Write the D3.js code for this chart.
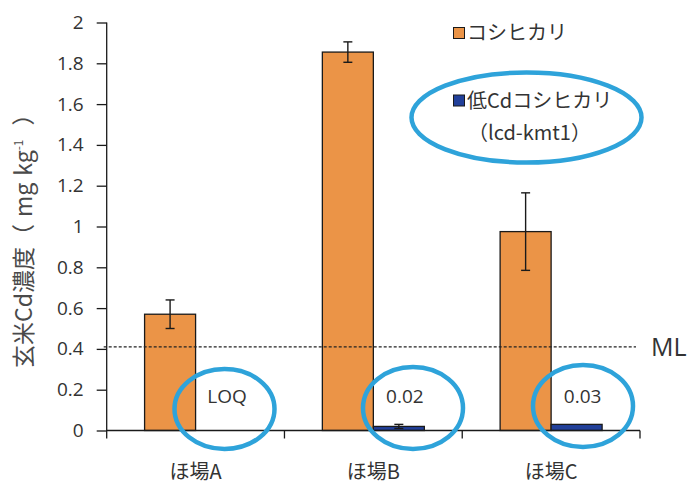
<!DOCTYPE html>
<html>
<head>
<meta charset="utf-8">
<script src="https://cdn.jsdelivr.net/npm/d3@7"></script>
<style>
  html, body { margin: 0; padding: 0; background: #fff; }
  svg { display: block; }
</style>
</head>
<body>
<svg id="chart" width="687" height="484"></svg>
<script>
// Brown rice Cd concentration by field, Koshihikari vs low-Cd Koshihikari
const categories = ["ほ場A", "ほ場B", "ほ場C"];
const seriesNames = ["コシヒカリ", "低Cdコシヒカリ"];
const koshihikari = [0.57, 1.855, 0.975];
const koshihikariErr = [0.07, 0.05, 0.19];
const lowCd = [0, 0.02, 0.03];
const lowCdErr = [0, 0.01, 0];
const lowCdLabels = ["LOQ", "0.02", "0.03"];
const yTicks = [0, 0.2, 0.4, 0.6, 0.8, 1, 1.2, 1.4, 1.6, 1.8, 2];
const mlValue = 0.41;

const colors = ["#EB9447", "#22409A"];
const textColor = "#333333";
const ringColor = "#2EA3DA";
const latin = "'Open Sans', Lato, sans-serif";
const cjk = "'Noto Sans CJK JP', sans-serif";

const svg = d3.select("#chart");
const plotLeft = 106.7, plotRight = 640, plotTop = 22.5, plotBottom = 430.5;

const y = d3.scaleLinear().domain([0, 2]).range([plotBottom, plotTop]);
const x0 = d3.scaleBand().domain(categories).range([plotLeft, plotRight]).paddingInner(0).paddingOuter(0);
// two bars per group, ~150% gap between groups
const x1 = d3.scaleBand().domain(seriesNames).range([0, x0.bandwidth()]).paddingOuter(0.743).paddingInner(0);

const g = svg.append("g");

const series = [
  { name: seriesNames[0], values: koshihikari, errs: koshihikariErr, color: colors[0] },
  { name: seriesNames[1], values: lowCd, errs: lowCdErr, color: colors[1] }
];

// bars
series.forEach(s => {
  categories.forEach((c, i) => {
    const bx = x0(c) + x1(s.name);
    const v = s.values[i];
    if (v > 0) {
      g.append("rect")
        .attr("x", bx)
        .attr("y", y(v))
        .attr("width", x1.bandwidth())
        .attr("height", y(0) - y(v))
        .attr("fill", s.color)
        .attr("stroke", "#1a1a1a")
        .attr("stroke-width", 1.3);
    }
  });
});

// error bars
series.forEach(s => {
  categories.forEach((c, i) => {
    const e = s.errs[i];
    if (!(e > 0)) return;
    const cx = x0(c) + x1(s.name) + x1.bandwidth() / 2;
    const v = s.values[i];
    const eg = g.append("g").attr("stroke", "#1a1a1a").attr("stroke-width", 1.4);
    eg.append("line").attr("x1", cx).attr("x2", cx).attr("y1", y(v + e)).attr("y2", y(v - e));
    eg.append("line").attr("x1", cx - 4.5).attr("x2", cx + 4.5).attr("y1", y(v + e)).attr("y2", y(v + e));
    eg.append("line").attr("x1", cx - 4.5).attr("x2", cx + 4.5).attr("y1", y(v - e)).attr("y2", y(v - e));
  });
});

// ML dashed line
g.append("line")
  .attr("x1", plotLeft - 3).attr("x2", 636)
  .attr("y1", y(mlValue)).attr("y2", y(mlValue))
  .attr("stroke", "#222").attr("stroke-width", 1.2)
  .attr("stroke-dasharray", "3,2");
g.append("text")
  .attr("x", 651).attr("y", y(mlValue))
  .attr("dy", "0.36em")
  .attr("font-family", latin)
  .attr("font-size", 25)
  .attr("fill", textColor)
  .text("ML");

// y axis
const yAxis = d3.axisLeft(y).tickValues(yTicks).tickSize(10).tickPadding(13)
  .tickFormat(d => d3.format("~g")(d));
const yg = svg.append("g").attr("transform", `translate(${plotLeft},0)`).call(yAxis);
yg.select(".domain").attr("d", `M0,${plotTop}V${plotBottom + 8}`).attr("stroke", "#1a1a1a").attr("stroke-width", 1.3);
yg.selectAll(".tick line").attr("stroke", "#1a1a1a").attr("stroke-width", 1.3);
yg.selectAll(".tick text")
  .attr("font-family", latin)
  .attr("font-size", 19)
  .attr("fill", textColor);

// x axis with category separators
const xg = svg.append("g").attr("transform", `translate(0,${plotBottom})`);
xg.append("line").attr("x1", plotLeft).attr("x2", plotRight).attr("y1", 0).attr("y2", 0)
  .attr("stroke", "#1a1a1a").attr("stroke-width", 1.3);
const bounds = categories.map(c => x0(c)).concat([plotRight]);
bounds.slice(1).forEach(bx => {
  xg.append("line").attr("x1", bx).attr("x2", bx).attr("y1", 0).attr("y2", 8)
    .attr("stroke", "#1a1a1a").attr("stroke-width", 1.3);
});
categories.forEach(c => {
  xg.append("text")
    .attr("x", x0(c) + x0.bandwidth() / 2)
    .attr("y", 41)
    .attr("dy", "0.36em")
    .attr("text-anchor", "middle")
    .attr("font-family", cjk)
    .attr("font-size", 20)
    .attr("fill", textColor)
    .text(c);
});

// y axis title
svg.append("text")
  .attr("transform", `translate(24,368) rotate(-90)`)
  .attr("dy", "0.36em")
  .attr("font-family", cjk)
  .attr("font-size", 23)
  .attr("fill", "#4a4a4a")
  .call(t => {
    t.append("tspan").text("玄米Cd濃度（");
    t.append("tspan").attr("dx", 7).text("mg");
    t.append("tspan").attr("dx", 7).text("kg");
    t.append("tspan").attr("font-size", 12).attr("dy", -9).text("-1");
    t.append("tspan").attr("dx", 14).attr("dy", 9).text("）");
  });

// low-Cd value labels
categories.forEach((c, i) => {
  const cx = x0(c) + x1(seriesNames[1]) + x1.bandwidth() / 2;
  svg.append("text")
    .attr("x", cx + 6)
    .attr("y", 396)
    .attr("dy", "0.36em")
    .attr("text-anchor", "middle")
    .attr("font-family", latin)
    .attr("font-size", 19)
    .attr("fill", textColor)
    .text(lowCdLabels[i]);
});

// legend
const legend = svg.append("g");
const legendRows = [
  { y: 33, label: seriesNames[0], color: colors[0] },
  { y: 100.5, label: seriesNames[1], color: colors[1] }
];
legendRows.forEach(r => {
  legend.append("rect").attr("x", 453.5).attr("y", r.y - 5.5).attr("width", 11).attr("height", 11)
    .attr("fill", r.color).attr("stroke", "#1a1a1a").attr("stroke-width", 1);
  legend.append("text").attr("x", 467).attr("y", r.y).attr("dy", "0.36em")
    .attr("font-family", cjk)
    .attr("font-size", 20).attr("fill", textColor).text(r.label);
});
legend.append("text").attr("x", 468).attr("y", 133).attr("dy", "0.36em")
  .attr("font-family", cjk)
  .attr("font-size", 20).attr("fill", textColor).text("（lcd-kmt1）");

// highlight rings
const rings = [
  { cx: 526.5, cy: 117.5, rx: 115, ry: 45 },
  { cx: 224.5, cy: 409, rx: 50, ry: 40 },
  { cx: 413, cy: 408, rx: 50, ry: 41 },
  { cx: 583, cy: 406, rx: 50, ry: 41 }
];
svg.append("g").selectAll("ellipse").data(rings).join("ellipse")
  .attr("cx", d => d.cx).attr("cy", d => d.cy)
  .attr("rx", d => d.rx).attr("ry", d => d.ry)
  .attr("fill", "none").attr("stroke", ringColor).attr("stroke-width", 4.5);
</script>
</body>
</html>
